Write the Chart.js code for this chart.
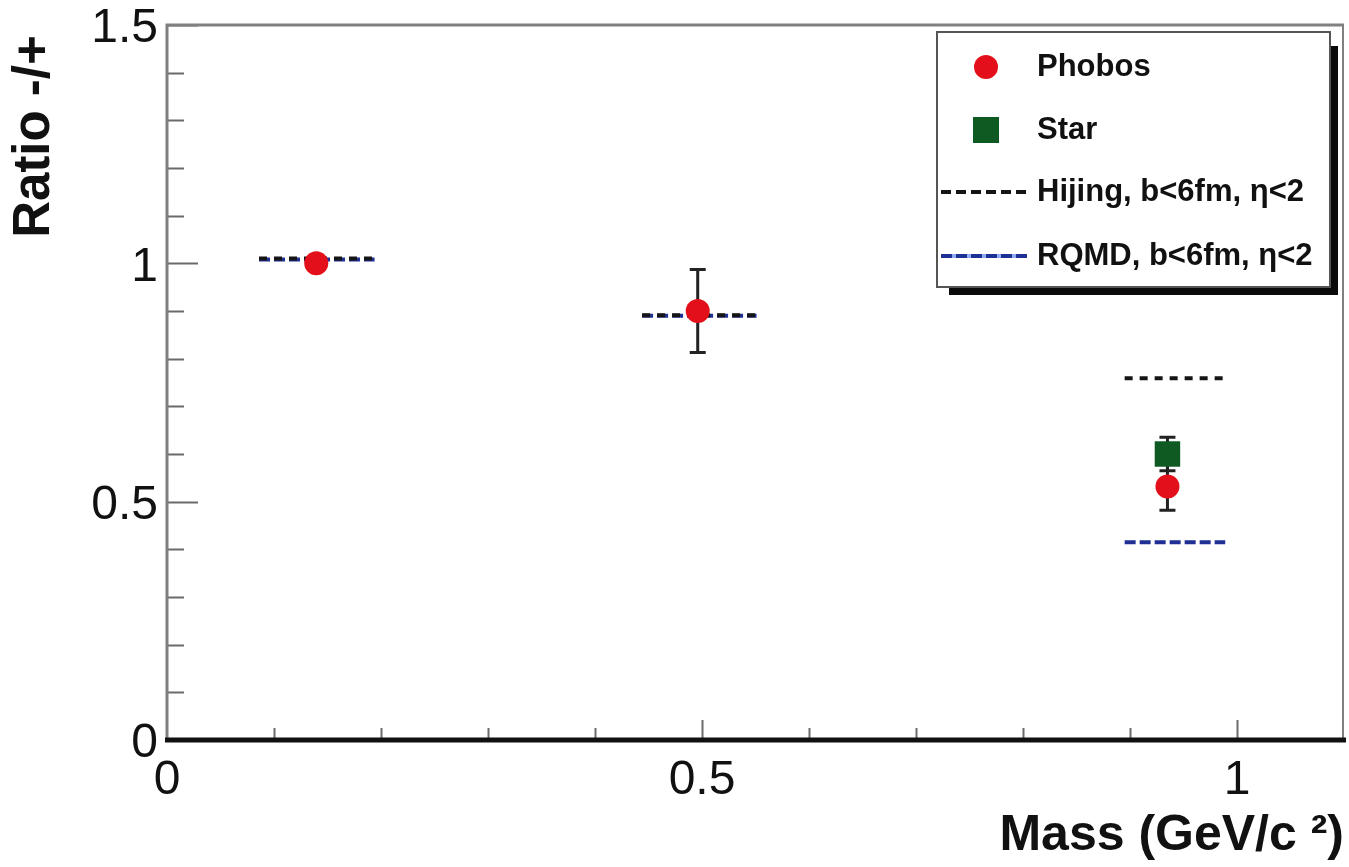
<!DOCTYPE html>
<html>
<head>
<meta charset="utf-8">
<script src="https://cdn.jsdelivr.net/npm/chart.js@4.4.1/dist/chart.umd.min.js"></script>
<style>
  html, body { margin: 0; padding: 0; background: #fff; }
  #wrap { width: 1349px; height: 867px; }
</style>
</head>
<body>
<div id="wrap"><canvas id="ratioChart" width="1349" height="867"></canvas></div>
<script>
// --- DATA ---
const phobosMass  = [0.1395, 0.496, 0.935];
const phobosRatio = [1.00, 0.900, 0.532];
const phobosErr   = [0.0, 0.087, 0.050];

const starMass  = [0.935];
const starRatio = [0.600];
const starErr   = [0.035];

// model predictions, one flat segment per particle
const segLo = [0.086, 0.444, 0.895];
const segHi = [0.194, 0.551, 0.989];
const hijingRatio = [1.010, 0.891, 0.759];
const rqmdRatio   = [1.008, 0.890, 0.415];

const yTickLabels = [0, 0.5, 1, 1.5];

// --- COLORS ---
const RED = '#e30f1b';
const GREEN = '#0e5a22';
const HIJING = '#151515';
const RQMD = '#1f2f94';
const FONT = "'Liberation Sans', Arial, Helvetica, sans-serif";

function toPoints(xs, ys) {
    return xs.map((x, i) => ({ x: x, y: ys[i] }));
}
function toSegments(ys) {
    return segLo.flatMap((lo, i) => [
        { x: lo, y: ys[i] }, { x: segHi[i], y: ys[i] }, { x: segHi[i], y: null }
    ]);
}

// Cadre + graduations dessinées vers l'intérieur
const frameTicksPlugin = {
    id: 'frameTicks',
    beforeDatasetsDraw(chart) {
        const { ctx, chartArea: { left, right, top, bottom }, scales: { x, y } } = chart;
        ctx.save();
        ctx.lineCap = 'butt';
        ctx.strokeStyle = '#6a6a6a';
        ctx.lineWidth = 2;
        for (let i = 0; i <= 15; i++) {
            const py = Math.round(y.getPixelForValue(i / 10)) + 0.5;
            const len = i % 5 === 0 ? 31 : 17;
            ctx.beginPath(); ctx.moveTo(left, py); ctx.lineTo(left + len, py); ctx.stroke();
        }
        for (let i = 1; i <= 10; i++) {
            const px = Math.round(x.getPixelForValue(i / 10)) + 0.5;
            const len = i % 5 === 0 ? 20 : 12;
            ctx.beginPath(); ctx.moveTo(px, bottom); ctx.lineTo(px, bottom - len); ctx.stroke();
        }
        // frame
        ctx.strokeStyle = '#808080';
        ctx.lineWidth = 3;
        ctx.beginPath();
        ctx.moveTo(left, bottom); ctx.lineTo(left, top); ctx.lineTo(right, top); ctx.stroke();
        ctx.lineWidth = 2;
        ctx.beginPath(); ctx.moveTo(right - 1, top); ctx.lineTo(right - 1, bottom); ctx.stroke();
        ctx.strokeStyle = '#111';
        ctx.lineWidth = 5;
        ctx.beginPath(); ctx.moveTo(left - 2, bottom); ctx.lineTo(right + 2, bottom); ctx.stroke();
        ctx.restore();
    }
};

// Barres d'erreur (sous les marqueurs)
const errorBarsPlugin = {
    id: 'errorBars',
    beforeDatasetsDraw(chart) {
        const { ctx, scales: { y } } = chart;
        ctx.save();
        ctx.strokeStyle = '#222';
        ctx.lineWidth = 3;
        chart.data.datasets.forEach((ds, di) => {
            if (!ds.errors) return;
            const meta = chart.getDatasetMeta(di);
            meta.data.forEach((pt, j) => {
                const e = ds.errors[j];
                if (!e) return;
                const v = ds.data[j].y;
                const yTop = y.getPixelForValue(v + e);
                const yBot = y.getPixelForValue(v - e);
                ctx.beginPath();
                ctx.moveTo(pt.x, yTop); ctx.lineTo(pt.x, yBot);
                ctx.moveTo(pt.x - 8, yTop); ctx.lineTo(pt.x + 8, yTop);
                ctx.moveTo(pt.x - 8, yBot); ctx.lineTo(pt.x + 8, yBot);
                ctx.stroke();
            });
        });
        ctx.restore();
    }
};

// Légende encadrée avec ombre
const boxLegendPlugin = {
    id: 'boxLegend',
    afterDraw(chart) {
        const { ctx } = chart;
        const bx = 937, by = 32, bw = 393, bh = 255;
        ctx.save();
        ctx.fillStyle = '#0a0a0a';
        ctx.fillRect(bx + 12, by + bh, bw - 4, 8);
        ctx.fillRect(bx + bw, by + 14, 8, bh - 6);
        ctx.fillStyle = '#fff';
        ctx.fillRect(bx, by, bw, bh);
        ctx.strokeStyle = '#555';
        ctx.lineWidth = 2;
        ctx.strokeRect(bx, by, bw, bh);

        const mx = 986, tx = 1037;
        const rows = [67, 130, 192, 256];
        // Phobos
        ctx.fillStyle = RED;
        ctx.beginPath(); ctx.arc(mx, rows[0], 12, 0, Math.PI * 2); ctx.fill();
        // Star
        ctx.fillStyle = GREEN;
        ctx.fillRect(mx - 13, rows[1] - 13, 26, 26);
        // Hijing
        ctx.lineWidth = 4;
        ctx.strokeStyle = HIJING; ctx.setLineDash([10, 5]);
        ctx.beginPath(); ctx.moveTo(941, rows[2]); ctx.lineTo(1027, rows[2]); ctx.stroke();
        // RQMD
        ctx.strokeStyle = '#8fa8ee'; ctx.setLineDash([]);
        ctx.beginPath(); ctx.moveTo(941, rows[3]); ctx.lineTo(1027, rows[3]); ctx.stroke();
        ctx.strokeStyle = RQMD; ctx.setLineDash([11, 4]);
        ctx.beginPath(); ctx.moveTo(941, rows[3]); ctx.lineTo(1027, rows[3]); ctx.stroke();
        ctx.setLineDash([]);

        ctx.fillStyle = '#111';
        ctx.textBaseline = 'middle';
        ctx.textAlign = 'left';
        ctx.font = 'bold 31px ' + FONT;
        const labels = chart.data.datasets.map(d => d.label);
        ctx.fillText(labels[0], tx, rows[0]);
        ctx.fillText(labels[1], tx, rows[1]);
        ctx.fillText(labels[2], tx, rows[2]);
        ctx.fillText(labels[3], tx, rows[3]);
        ctx.restore();
    }
};

const ctx = document.getElementById('ratioChart').getContext('2d');
new Chart(ctx, {
    type: 'scatter',
    data: {
        datasets: [
            { label: 'Phobos', data: toPoints(phobosMass, phobosRatio), errors: phobosErr,
              pointStyle: 'circle', pointRadius: 12, backgroundColor: RED, borderColor: RED, borderWidth: 0, order: 0 },
            { label: 'Star', data: toPoints(starMass, starRatio), errors: starErr,
              pointStyle: 'rect', pointRadius: 18, backgroundColor: GREEN, borderColor: GREEN, borderWidth: 0, order: 0 },
            { label: 'Hijing, b<6fm, \u03B7<2', type: 'line', data: toSegments(hijingRatio), spanGaps: false,
              borderColor: HIJING, borderWidth: 4, borderDash: [8, 7], pointRadius: 0, fill: false, order: 1 },
            { label: 'RQMD, b<6fm, \u03B7<2', type: 'line', data: toSegments(rqmdRatio), spanGaps: false,
              borderColor: RQMD, borderWidth: 4, borderDash: [11, 4], pointRadius: 0, fill: false, order: 2 }
        ]
    },
    options: {
        responsive: false,
        animation: false,
        layout: { autoPadding: false, padding: { left: 0, top: 25, right: 5, bottom: 0 } },
        plugins: { legend: { display: false }, tooltip: { enabled: false } },
        scales: {
            x: {
                type: 'linear', min: 0, max: 1.1,
                afterFit: s => { s.height = 127; s.paddingLeft = 0; s.paddingRight = 0; },
                grid: { display: false, drawTicks: false },
                border: { display: false },
                ticks: { stepSize: 0.5, includeBounds: false, padding: 12, color: '#111',
                         callback: v => String(v), font: { family: FONT, size: 48 } },
                title: { display: true, text: 'Mass (GeV/c \u00B2)', align: 'end', color: '#111',
                         font: { family: FONT, size: 50, weight: 'bold' }, padding: { top: 0, bottom: 1 } }
            },
            y: {
                type: 'linear', min: 0, max: 1.5,
                afterFit: s => { s.width = 167; s.paddingTop = 0; s.paddingBottom = 0; },
                grid: { display: false, drawTicks: false },
                border: { display: false },
                afterBuildTicks: s => { s.ticks = yTickLabels.map(v => ({ value: v })); },
                ticks: { padding: 9, labelOffset: 4, color: '#111', callback: v => String(v),
                          font: { family: FONT, size: 48 } },
                title: { display: true, text: 'Ratio -/+\u2009', align: 'end', color: '#111',
                         font: { family: FONT, size: 51, weight: 'bold' }, padding: { top: 4, bottom: 0 } }
            }
        }
    },
    plugins: [frameTicksPlugin, errorBarsPlugin, boxLegendPlugin]
});
</script>
</body>
</html>
